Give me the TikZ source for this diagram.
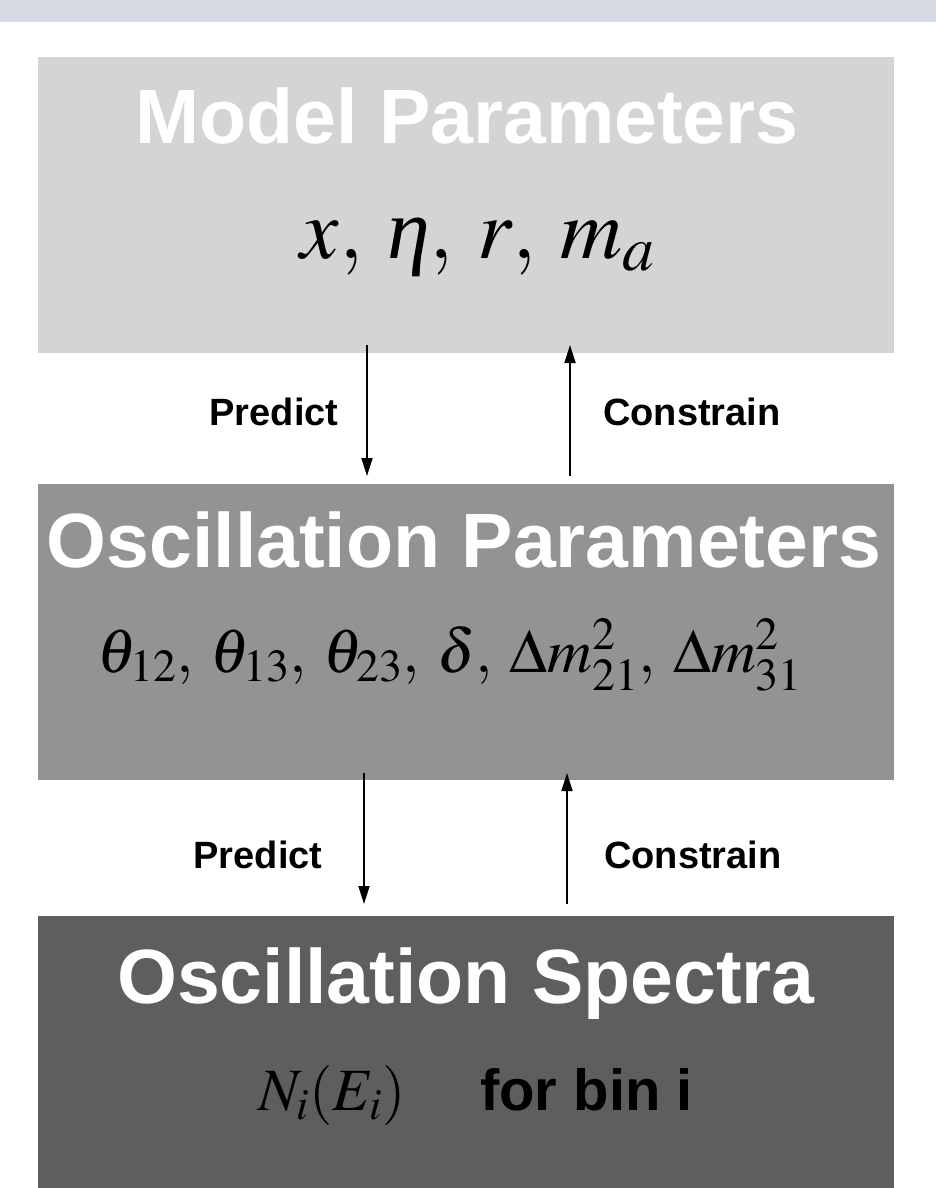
\documentclass[tikz,border=0pt]{standalone}
\usepackage{mathptmx}
\usepackage[no-math]{fontspec}
\setmainfont{Liberation Sans}
\newfontfamily\tms{Liberation Serif}
\usetikzlibrary{arrows.meta}
\definecolor{barblue}{HTML}{D6DAE5}
\definecolor{boxlight}{HTML}{D4D4D4}
\definecolor{boxmid}{HTML}{939393}
\definecolor{boxdark}{HTML}{5E5E5E}
\newcommand{\myeta}{\mbox{\tms\itshape η}}
\tikzset{
  panel/.style={inner sep=0pt, minimum width=856pt, draw=none},
  title/.style={anchor=base, text=white, inner sep=0pt, font=\fontsize{77}{80}\selectfont\bfseries},
  formula/.style={anchor=base, text=black, inner sep=0pt},
  arlabel/.style={anchor=base, text=black, inner sep=0pt, font=\fontsize{38}{40}\selectfont\bfseries},
  flow/.style={line width=1.8pt, -{Triangle[length=18pt,width=11pt]}}
}
\begin{document}
\begin{tikzpicture}[x=1pt,y=-1pt]
\useasboundingbox (0,0) rectangle (936,1188);
\fill[barblue] (0,0) rectangle (936,22);

\node[panel, fill=boxlight, minimum height=296pt] (model) at (466,205) {};
\node[panel, fill=boxmid, minimum height=296pt] (osc) at (466,632) {};
\node[panel, fill=boxdark, minimum height=272pt] (spec) at (466,1052) {};

\node[title] (modelt) at (467,143) {Model Parameters};
\node[formula, font=\fontsize{86}{90}\selectfont] (modelf) at (478,258) {$x{,}\ \myeta{,}\ r{,}\ m_a$};

\node[title] (osct) at (464,567) {Oscillation Parameters};
\node[formula, font=\fontsize{62}{66}\selectfont] (oscf) at (450,672) {$\theta_{12}{,}\ \theta_{13}{,}\ \theta_{23}{,}\ \delta{,}\ \Delta m^2_{21}{,}\ \Delta m^2_{31}$};

\node[title] (spect) at (466,1003) {Oscillation Spectra};
\node[formula, anchor=base west, font=\fontsize{60}{64}\selectfont] (specf) at (258,1110) {$N_i(E_i)$};
\node[formula, anchor=base west, font=\fontsize{58}{60}\selectfont\bfseries] (specb) at (480,1110) {for bin i};

\coordinate (p1a) at (367,345);
\coordinate (p1b) at (367,476);
\coordinate (c1a) at (570,476);
\coordinate (c1b) at (570,345);
\coordinate (p2a) at (364,773);
\coordinate (p2b) at (364,904);
\coordinate (c2a) at (567,904);
\coordinate (c2b) at (567,773);

\draw[flow] (p1a) -- (p1b);
\draw[flow] (c1a) -- (c1b);
\draw[flow] (p2a) -- (p2b);
\draw[flow] (c2a) -- (c2b);

\node[arlabel] (pl1) at (274,425) {Predict};
\node[arlabel] (cl1) at (692,425) {Constrain};
\node[arlabel] (pl2) at (258,868) {Predict};
\node[arlabel] (cl2) at (693,868) {Constrain};
\end{tikzpicture}
\end{document}
